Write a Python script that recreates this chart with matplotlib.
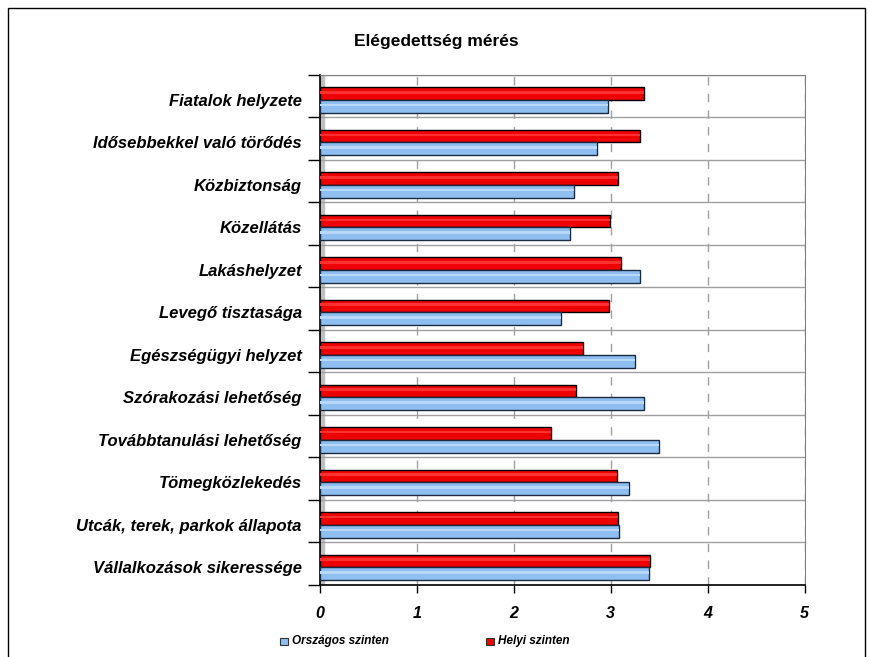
import numpy as np
import matplotlib.pyplot as plt

plt.rcParams['font.family'] = ['Liberation Sans', 'DejaVu Sans']

kategoriak = ["Fiatalok helyzete", "Idősebbekkel való törődés", "Közbiztonság",
              "Közellátás", "Lakáshelyzet", "Levegő tisztasága",
              "Egészségügyi helyzet", "Szórakozási lehetőség",
              "Továbbtanulási lehetőség", "Tömegközlekedés",
              "Utcák, terek, parkok állapota", "Vállalkozások sikeressége"]
helyi = [3.34, 3.30, 3.08, 2.99, 3.11, 2.98, 2.71, 2.64, 2.38, 3.06, 3.07, 3.40]
orszagos = [2.97, 2.86, 2.62, 2.58, 3.30, 2.49, 3.25, 3.34, 3.50, 3.19, 3.09, 3.39]
xtick = [0, 1, 2, 3, 4, 5]

fig = plt.figure(figsize=(8.69, 6.57), dpi=100)
# keret a diagram korul
fig.patches.append(plt.Rectangle((0.009, -0.01), 0.986, 0.998, transform=fig.transFigure,
                                 fill=False, edgecolor='black', linewidth=1))

ax = fig.add_axes([0.368, 0.110, 0.558, 0.776])
y = np.arange(len(kategoriak))
h = 0.3
eltol = 0.09  # a rudpar kicsit lejjebb ul

ax.barh(y - h / 2 + eltol, helyi, height=h, color='#ee0000', edgecolor='black', linewidth=1, zorder=3)
ax.barh(y + h / 2 + eltol, orszagos, height=h, color='#8fbef0', edgecolor='#1a2a40', linewidth=1, zorder=3)
# kis fenyes csik a rudakon
ax.barh(y - h / 2 + eltol - 0.03, helyi, height=0.06, color='#ff3030', linewidth=0, zorder=4)
ax.barh(y + h / 2 + eltol - 0.03, orszagos, height=0.06, color='#b8d8f8', linewidth=0, zorder=4)

ax.set_xlim(0, 5)
ax.set_ylim(len(kategoriak) - 0.5, -0.5)
ax.set_xticks(xtick)
ax.set_xticklabels([str(t) for t in xtick], fontsize=11.5, fontweight='bold', fontstyle='italic')
ax.set_yticks(y + eltol)
ax.set_yticklabels(kategoriak, fontsize=12, fontweight='bold', fontstyle='italic')
ax.set_yticks(np.arange(len(kategoriak) + 1) - 0.5, minor=True)
ax.tick_params(axis='y', which='major', length=0, pad=13)
ax.tick_params(axis='y', which='minor', length=9, width=1, color='black')
ax.tick_params(axis='x', length=6, width=1, pad=9)

ax.grid(axis='x', which='major', color='#a0a0a0', linestyle=(0, (6, 6)), linewidth=1, zorder=0)
ax.grid(axis='y', which='minor', color='#a0a0a0', linestyle='-', linewidth=1, zorder=0)

# bal fal szurke
ax.axvspan(0, 0.04, color='#c0c0c0', zorder=1)

for s in ['top', 'right']:
    ax.spines[s].set_color('#808080')
ax.spines['left'].set_linewidth(1.2)
ax.spines['bottom'].set_linewidth(1.2)

fig.text(0.502, 0.937, "Elégedettség mérés", ha='center', va='center',
         fontsize=12.5, fontweight='bold')

# jelmagyarazat
fig.patches.append(plt.Rectangle((0.322, 0.018), 0.009, 0.011, transform=fig.transFigure,
                                 facecolor='#8fbef0', edgecolor='#333333', linewidth=0.8))
fig.text(0.336, 0.024, "Országos szinten", fontsize=8.5, fontweight='bold', fontstyle='italic', va='center')
fig.patches.append(plt.Rectangle((0.559, 0.018), 0.009, 0.011, transform=fig.transFigure,
                                 facecolor='#ee0000', edgecolor='#333333', linewidth=0.8))
fig.text(0.573, 0.024, "Helyi szinten", fontsize=8.5, fontweight='bold', fontstyle='italic', va='center')

plt.savefig("out.png", dpi=100)
